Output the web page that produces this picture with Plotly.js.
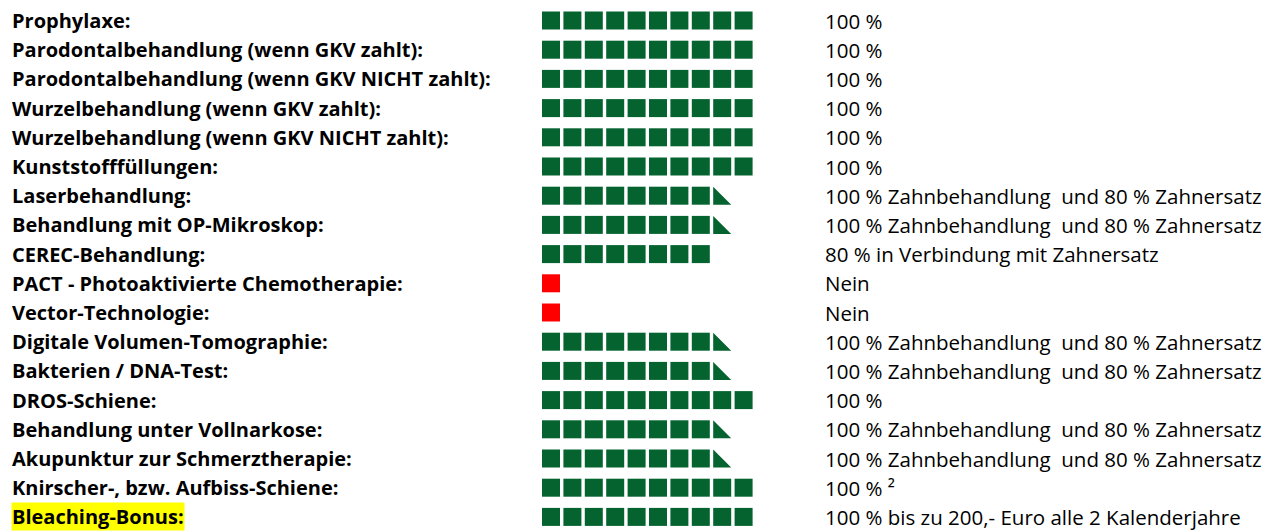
<!DOCTYPE html>
<html>
<head>
<meta charset="utf-8">
<script src="https://cdn.plot.ly/plotly-3.0.1.min.js"></script>
<style>
html,body{margin:0;padding:0;background:#fff;}
#chart{width:1280px;height:531px;}
</style>
</head>
<body>
<div id="chart"></div>
<script>
// ---- data ----
const labels = [
  "Prophylaxe:",
  "Parodontalbehandlung (wenn GKV zahlt):",
  "Parodontalbehandlung (wenn GKV NICHT zahlt):",
  "Wurzelbehandlung (wenn GKV zahlt):",
  "Wurzelbehandlung (wenn GKV NICHT zahlt):",
  "Kunststofffüllungen:",
  "Laserbehandlung:",
  "Behandlung mit OP-Mikroskop:",
  "CEREC-Behandlung:",
  "PACT - Photoaktivierte Chemotherapie:",
  "Vector-Technologie:",
  "Digitale Volumen-Tomographie:",
  "Bakterien / DNA-Test:",
  "DROS-Schiene:",
  "Behandlung unter Vollnarkose:",
  "Akupunktur zur Schmerztherapie:",
  "Knirscher-, bzw. Aufbiss-Schiene:",
  "Bleaching-Bonus:"
];
const fullCells = [10,10,10,10,10,10,8,8,8,1,1,8,8,10,8,8,10,10];
const partialCells = [0,0,0,0,0,0,1,1,0,0,0,1,1,0,1,1,0,0];
const covered = [1,1,1,1,1,1,1,1,1,0,0,1,1,1,1,1,1,1];
const highlighted = [0,0,0,0,0,0,0,0,0,0,0,0,0,0,0,0,0,1];
const notes = [
  "100 %",
  "100 %",
  "100 %",
  "100 %",
  "100 %",
  "100 %",
  "100 % Zahnbehandlung  und 80 % Zahnersatz",
  "100 % Zahnbehandlung  und 80 % Zahnersatz",
  "80 % in Verbindung mit Zahnersatz",
  "Nein",
  "Nein",
  "100 % Zahnbehandlung  und 80 % Zahnersatz",
  "100 % Zahnbehandlung  und 80 % Zahnersatz",
  "100 %",
  "100 % Zahnbehandlung  und 80 % Zahnersatz",
  "100 % Zahnbehandlung  und 80 % Zahnersatz",
  "100 % \u00b2",
  "100 % bis zu 200,- Euro alle 2 Kalenderjahre"
];

// ---- geometry (styling) ----
const W = 1280, H = 531;
const cellPitchPx = 21.4, rowPitchPx = 29.2;
const firstCellCenterPx = 551, firstRowCenterPx = 20.5;
const squarePx = 18;
const labelPx = 11, notePx = 824;
const GREEN = '#05632F', RED = '#FF0000';

const xRange = [-firstCellCenterPx / cellPitchPx, (W - firstCellCenterPx) / cellPitchPx];
const yRange = [(H - firstRowCenterPx) / rowPitchPx, -firstRowCenterPx / rowPitchPx];
const hw = (squarePx / 2) / cellPitchPx, hh = (squarePx / 2) / rowPitchPx;
const pxToX = px => (px - firstCellCenterPx) / cellPitchPx;

const gx = [], gy = [], rx = [], ry = [];
const tx = [], ty = [];
labels.forEach((lab, r) => {
  for (let i = 0; i < fullCells[r]; i++) {
    if (covered[r]) { gx.push(i); gy.push(r); } else { rx.push(i); ry.push(r); }
  }
  if (partialCells[r]) {
    const i = fullCells[r];
    tx.push(i - hw, i - hw, i + hw, i - hw, null);
    ty.push(r - hh, r + hh, r + hh, r - hh, null);
  }
});

const traces = [
  {type:'scatter', mode:'markers', x:gx, y:gy, hoverinfo:'skip',
   marker:{symbol:'square', size:squarePx, color:GREEN, line:{width:0}}},
  {type:'scatter', mode:'markers', x:rx, y:ry, hoverinfo:'skip',
   marker:{symbol:'square', size:squarePx, color:RED, line:{width:0}}},
  {type:'scatter', mode:'lines', x:tx, y:ty, fill:'toself', fillcolor:GREEN,
   line:{width:0, color:GREEN}, hoverinfo:'skip', connectgaps:false}
];

const annotations = [];
labels.forEach((lab, r) => {
  annotations.push({
    x: pxToX(labelPx), y: r, xref:'x', yref:'y', text: lab, showarrow:false,
    xanchor:'left', yanchor:'middle', align:'left', borderpad:0,
    bgcolor: highlighted[r] ? '#FFFF00' : 'rgba(0,0,0,0)',
    font:{family:'Open Sans, sans-serif', size:20, weight:700, color:'#000'}
  });
  annotations.push({
    x: pxToX(notePx), y: r, xref:'x', yref:'y', text: notes[r], showarrow:false,
    xanchor:'left', yanchor:'middle', align:'left', borderpad:0,
    font:{family:'Open Sans, sans-serif', size:20.5, color:'#000'}
  });
});

const layout = {
  width: W, height: H,
  margin:{l:0, r:0, t:0, b:0, pad:0},
  paper_bgcolor:'#fff', plot_bgcolor:'#fff',
  showlegend:false,
  xaxis:{range:xRange, visible:false, fixedrange:true},
  yaxis:{range:yRange, visible:false, fixedrange:true},
  annotations: annotations
};

Plotly.newPlot('chart', traces, layout, {displayModeBar:false, staticPlot:true});
</script>
</body>
</html>
